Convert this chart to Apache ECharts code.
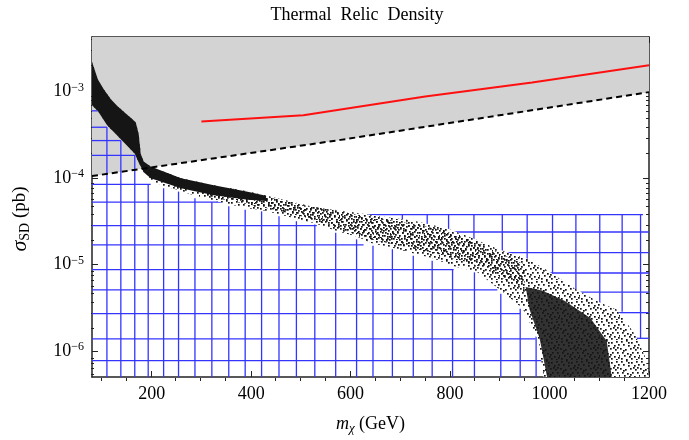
<!DOCTYPE html>
<html><head><meta charset="utf-8">
<script src="https://cdn.jsdelivr.net/npm/echarts@6/dist/echarts.min.js"></script>
<style>html,body{margin:0;padding:0;background:#fff}#c{width:689px;height:440px}</style>
</head><body><div id="c"></div>
<script>
// ---- axis ticks ----
const xTickValues = [200, 400, 600, 800, 1000, 1200];
const xMinorValues = [100, 150, 250, 300, 350, 450, 500, 550, 650, 700, 750, 850, 900, 950, 1050, 1100, 1150];
const yTickValues = [1e-6, 1e-5, 1e-4, 1e-3];
const yMinorValues = [6e-7, 7e-7, 8e-7, 9e-7,
  2e-6, 3e-6, 4e-6, 5e-6, 6e-6, 7e-6, 8e-6, 9e-6,
  2e-5, 3e-5, 4e-5, 5e-5, 6e-5, 7e-5, 8e-5, 9e-5,
  2e-4, 3e-4, 4e-4, 5e-4, 6e-4, 7e-4, 8e-4, 9e-4,
  2e-3, 3e-3, 4e-3];

// ---- curves ----
const dashedLine = [[80, 1.05e-4], [580, 2.75e-4], [1200, 9.8e-4]];
const redLine = [[300, 4.5e-4], [505, 5.3e-4], [750, 8.7e-4], [965, 1.27e-3], [1200, 2.0e-3]];

// ---- scatter band outlines (GeV, pb) ----
const bandUpper = [[80, 2.2e-3], [92, 1.37e-3], [104, 1.05e-3], [118, 8.1e-4], [132, 6.7e-4], [152, 5.3e-4],
  [168, 4.4e-4], [174, 3.2e-4], [178, 1.9e-4], [184, 1.55e-4], [198, 1.35e-4], [259, 9.9e-5], [325, 8.2e-5],
  [393, 7.0e-5], [460, 5.7e-5], [526, 4.6e-5], [594, 4.1e-5], [660, 3.6e-5], [727, 3.2e-5], [795, 2.6e-5],
  [847, 2.0e-5], [897, 1.5e-5], [955, 1.17e-5], [996, 8.5e-6], [1052, 5.2e-6], [1102, 3.6e-6], [1136, 3.0e-6],
  [1172, 1.55e-6], [1192, 8.6e-7], [1200, 5e-7]];
const bandLower = [[988, 5e-7], [978, 1.3e-6], [946, 3.1e-6], [906, 4.8e-6], [853, 8.3e-6], [807, 9.5e-6],
  [767, 1.17e-5], [727, 1.34e-5], [685, 1.56e-5], [644, 1.74e-5], [612, 2.1e-5], [570, 2.45e-5], [528, 3.0e-5],
  [492, 3.36e-5], [456, 3.8e-5], [421, 4.25e-5], [387, 4.5e-5], [355, 5.0e-5], [321, 5.5e-5], [287, 6.2e-5],
  [255, 7.2e-5], [225, 8.0e-5], [198, 9.4e-5], [184, 1.16e-4], [174, 1.5e-4], [166, 1.9e-4], [138, 2.8e-4],
  [110, 4.1e-4], [92, 5.9e-4], [80, 6.9e-4]];
const bandMid = [[300, 8.3e-5], [360, 7.3e-5], [430, 6.1e-5], [500, 4.9e-5], [570, 4.2e-5], [640, 3.5e-5],
  [710, 3.05e-5], [780, 2.55e-5], [850, 1.85e-5], [900, 1.35e-5], [950, 1.0e-5],
  [950, 5.0e-6], [900, 7.3e-6], [850, 1.0e-5], [780, 1.3e-5], [710, 1.6e-5], [640, 1.95e-5], [570, 2.7e-5],
  [500, 3.6e-5], [430, 4.5e-5], [360, 5.4e-5], [300, 6.3e-5]];
const bandCoreLeft = [[80, 2.2e-3], [92, 1.37e-3], [104, 1.05e-3], [118, 8.1e-4], [132, 6.7e-4], [152, 5.3e-4],
  [168, 4.4e-4], [174, 3.2e-4], [178, 1.9e-4], [184, 1.55e-4], [198, 1.35e-4], [259, 9.9e-5], [325, 8.2e-5],
  [393, 6.9e-5], [430, 6.2e-5], [430, 5.4e-5], [393, 5.6e-5], [325, 6.3e-5], [259, 7.6e-5], [198, 9.9e-5],
  [184, 1.16e-4], [174, 1.5e-4], [166, 1.9e-4], [138, 2.8e-4], [110, 4.1e-4], [92, 5.9e-4], [80, 6.9e-4]];
const bandCoreBottom = [[952, 5.5e-6], [985, 5.0e-6], [1030, 3.8e-6], [1082, 2.4e-6], [1115, 1.3e-6],
  [1125, 5e-7], [995, 5e-7], [980, 1.4e-6], [960, 3.0e-6]];

// ---- blue mesh: horizontal [y, x1, x2], vertical [x, y1, y2] ----
const meshHLeft = [[5.96e-4, 80, 92], [3.85e-4, 80, 110], [2.70e-4, 80, 138], [1.82e-4, 80, 168],
  [8.43e-5, 80, 198], [5.25e-5, 80, 342], [2.81e-5, 80, 532], [1.68e-5, 80, 626], [8.7e-6, 80, 807],
  [5.08e-6, 80, 895], [2.70e-6, 80, 941], [1.38e-6, 80, 972], [7.73e-7, 80, 985]];
const meshVLeft = [[110, 5e-7, 3.85e-4], [138, 5e-7, 2.70e-4], [166, 5e-7, 1.82e-4], [193, 5e-7, 8.43e-5],
  [224, 5e-7, 7.59e-5], [254, 5e-7, 6.95e-5], [287, 5e-7, 5.83e-5], [321, 5e-7, 5.25e-5], [355, 5e-7, 4.69e-5],
  [388, 5e-7, 4.29e-5], [421, 5e-7, 4.11e-5], [456, 5e-7, 3.6e-5], [491, 5e-7, 3.16e-5], [528, 5e-7, 2.89e-5],
  [570, 5e-7, 2.32e-5], [612, 5e-7, 1.95e-5], [645, 5e-7, 1.64e-5], [684, 5e-7, 1.5e-5], [726, 5e-7, 1.26e-5],
  [764, 5e-7, 1.1e-5], [805, 5e-7, 8.83e-6], [849, 5e-7, 8.1e-6], [902, 5e-7, 4.58e-6], [941, 5e-7, 3.08e-6],
  [973, 5e-7, 1.47e-6]];
const meshHRight = [[3.76e-5, 636, 1188], [2.37e-5, 791, 1200], [1.37e-5, 897, 1200], [7.96e-6, 995, 1200],
  [4.79e-6, 1062, 1200], [2.77e-6, 1136, 1200], [1.40e-6, 1172, 1200]];
const meshVRight = [[704, 3.02e-5, 3.76e-5], [754, 2.65e-5, 3.76e-5], [797, 2.32e-5, 3.76e-5],
  [848, 1.88e-5, 3.76e-5], [905, 1.37e-5, 3.76e-5], [955, 1.11e-5, 3.76e-5], [1006, 7.74e-6, 3.76e-5],
  [1053, 4.79e-6, 3.76e-5], [1101, 3.23e-6, 3.76e-5], [1146, 2.83e-6, 3.76e-5], [1183, 1.4e-6, 3.76e-5]];

const X_MIN = 80, X_MAX = 1200, Y_MIN = 5e-7, Y_MAX = 4.25e-3;
const FONT = '"Liberation Serif", "Times New Roman", serif';

// speckle texture tiles for the scatter band (fixed layouts, not data)
function makeTile(size, dots, dot) {
  const c = document.createElement('canvas');
  c.width = size; c.height = size;
  const g = c.getContext('2d');
  g.fillStyle = '#111';
  dots.forEach(p => g.fillRect(p[0], p[1], dot, dot));
  return { image: c, repeat: 'repeat' };
}
const speckleA = makeTile(20, [[1, 1], [6, 0], [11, 2], [16, 1], [3, 4], [8, 5], [14, 5], [18, 4], [0, 8], [5, 9],
  [10, 8], [15, 9], [2, 12], [7, 13], [12, 12], [17, 12], [4, 15], [9, 16], [14, 16], [19, 15], [1, 18], [6, 19],
  [11, 18], [16, 19], [13, 7], [18, 17], [8, 2], [3, 10], [17, 7], [10, 14]], 1.7);
const speckleB = makeTile(17, [[2, 0], [8, 1], [13, 0], [0, 4], [5, 3], [11, 4], [15, 5], [3, 7], [9, 6], [14, 9],
  [1, 10], [6, 10], [11, 11], [16, 12], [4, 13], [8, 14], [13, 15], [0, 15], [6, 16], [10, 3], [15, 1], [2, 12],
  [12, 7], [7, 8], [16, 16], [4, 5]], 1.7);

const meshSegs = [];
meshHLeft.concat(meshHRight).forEach(([y, x1, x2]) => meshSegs.push([x1, y, x2, y]));
meshVLeft.concat(meshVRight).forEach(([x, y1, y2]) => meshSegs.push([x, y1, x, y2]));

function polySeries(poly, fill, z) {
  return {
    type: 'custom', coordinateSystem: 'cartesian2d', silent: true, z: z,
    data: [[poly[0][0], poly[0][1]]],
    encode: { x: 0, y: 1 },
    renderItem: (params, api) => ({
      type: 'polygon',
      shape: { points: poly.map(p => api.coord(p)) },
      style: { fill: fill, stroke: null }
    })
  };
}

const chart = echarts.init(document.getElementById('c'), null, { renderer: 'canvas' });
const frameLine = { show: true, lineStyle: { color: '#222', width: 1.5 } };
const gridRect = { left: 91, right: 40, top: 37, bottom: 59, containLabel: false };

function xAx(grid, pos, vals, len, labels) {
  return {
    gridIndex: grid, type: 'value', min: X_MIN, max: X_MAX, position: pos,
    axisLine: grid === 0 ? frameLine : { show: false },
    axisTick: { show: true, inside: true, length: len, customValues: vals, lineStyle: { color: '#222', width: 1 } },
    axisLabel: labels ? { show: true, customValues: xTickValues, formatter: v => String(v), fontFamily: FONT, fontSize: 18, color: '#000', margin: 8 } : { show: false },
    splitLine: { show: false }
  };
}
function yAx(grid, pos, vals, len, labels) {
  return {
    gridIndex: grid, type: 'log', logBase: 10, min: Y_MIN, max: Y_MAX, position: pos,
    axisLine: grid === 0 ? frameLine : { show: false },
    axisTick: { show: true, inside: true, length: len, customValues: vals, lineStyle: { color: '#222', width: 1 } },
    axisLabel: labels ? {
      show: true, customValues: yTickValues, margin: 8,
      formatter: v => '{b|10}{s|\u2212' + Math.round(-Math.log10(v)) + '}',
      rich: {
        b: { fontFamily: FONT, fontSize: 18, color: '#000', lineHeight: 20 },
        s: { fontFamily: FONT, fontSize: 12, color: '#000', lineHeight: 12, verticalAlign: 'top' }
      }
    } : { show: false },
    splitLine: { show: false }
  };
}

const xMain = xAx(0, 'bottom', xTickValues, 6, true);
xMain.name = '{i|m}{sub|\u03c7} (GeV)';
xMain.nameLocation = 'middle';
xMain.nameGap = 36;
xMain.nameTextStyle = {
  fontFamily: FONT, fontSize: 18, color: '#000', lineHeight: 22,
  rich: {
    i: { fontFamily: FONT, fontSize: 18, fontStyle: 'italic', color: '#000', lineHeight: 22 },
    sub: { fontFamily: FONT, fontSize: 13, fontStyle: 'italic', color: '#000', lineHeight: 12, verticalAlign: 'bottom' }
  }
};
const yMain = yAx(0, 'left', yTickValues, 6, true);
yMain.name = '{i|\u03c3}{sub|SD} (pb)';
yMain.nameLocation = 'middle';
yMain.nameGap = 60;
yMain.nameTextStyle = {
  fontFamily: FONT, fontSize: 19, color: '#000', lineHeight: 24, padding: [0, 24, 0, 0],
  rich: {
    i: { fontFamily: FONT, fontSize: 22, fontStyle: 'italic', color: '#000', lineHeight: 24 },
    sub: { fontFamily: FONT, fontSize: 14, color: '#000', lineHeight: 12, verticalAlign: 'bottom' }
  }
};

chart.setOption({
  animation: false,
  backgroundColor: '#fff',
  graphic: [{
    type: 'text', x: 357, y: 15,
    style: { text: 'Thermal  Relic  Density', font: '18px ' + FONT, fill: '#000', align: 'center', verticalAlign: 'middle', textAlign: 'center', textVerticalAlign: 'middle' }
  }],
  grid: [Object.assign({}, gridRect), Object.assign({}, gridRect)],
  xAxis: [xMain, xAx(0, 'top', xTickValues, 6, false), xAx(1, 'bottom', xMinorValues, 3, false), xAx(1, 'top', xMinorValues, 3, false)],
  yAxis: [yMain, yAx(0, 'right', yTickValues, 6, false), yAx(1, 'left', yMinorValues, 3, false), yAx(1, 'right', yMinorValues, 3, false)],
  series: [
    { type: 'line', data: dashedLine, symbol: 'none', silent: true, z: 1,
      lineStyle: { width: 0, opacity: 0 }, areaStyle: { color: '#d3d3d3', opacity: 1, origin: 'end' } },
    { type: 'custom', coordinateSystem: 'cartesian2d', silent: true, z: 2, data: meshSegs,
      encode: { x: [0, 2], y: [1, 3] },
      renderItem: (params, api) => {
        const a = api.coord([api.value(0), api.value(1)]);
        const b = api.coord([api.value(2), api.value(3)]);
        return { type: 'line', shape: { x1: a[0], y1: a[1], x2: b[0], y2: b[1] }, style: { stroke: '#3434ff', lineWidth: 1.3 } };
      } },
    polySeries(bandUpper.concat(bandLower), '#fff', 3),
    polySeries(bandUpper.concat(bandLower), speckleA, 3),
    polySeries(bandMid, speckleB, 3),
    polySeries(bandCoreLeft, '#151515', 4),
    polySeries(bandCoreBottom, 'rgba(22,22,22,0.88)', 4),
    { type: 'line', data: dashedLine, symbol: 'none', silent: true, z: 5,
      lineStyle: { color: '#000', width: 2, type: [6, 4] } },
    { type: 'line', data: redLine, symbol: 'none', silent: true, z: 6,
      lineStyle: { color: '#ff1010', width: 2 } }
  ]
});
</script></body></html>
